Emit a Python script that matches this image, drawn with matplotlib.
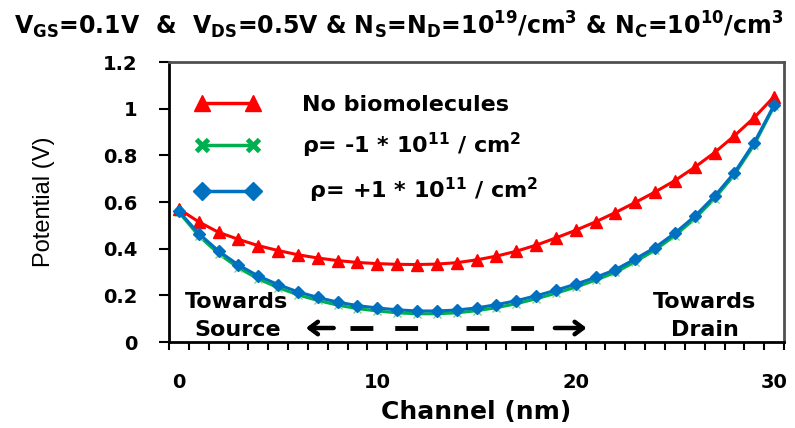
import matplotlib
matplotlib.use("Agg")
import matplotlib.pyplot as plt
from matplotlib.lines import Line2D
from matplotlib.legend_handler import HandlerLine2D
from matplotlib.ticker import MultipleLocator, FixedLocator

plt.rcParams['font.family'] = 'DejaVu Sans'
plt.rcParams['font.weight'] = 'bold'
plt.rcParams['mathtext.default'] = 'regular'

# channel position (nm), one point per nm
channel = list(range(31))

# potential along the channel (V)
no_bio = [0.570, 0.515, 0.470, 0.440, 0.413, 0.392, 0.374, 0.360, 0.349, 0.341,
          0.336, 0.333, 0.332, 0.334, 0.340, 0.352, 0.368, 0.389, 0.415, 0.446,
          0.479, 0.515, 0.555, 0.598, 0.643, 0.692, 0.749, 0.812, 0.884, 0.962,
          1.052]
rho_neg = [0.556, 0.455, 0.378, 0.318, 0.270, 0.233, 0.202, 0.178, 0.158, 0.143,
           0.133, 0.125, 0.121, 0.121, 0.125, 0.134, 0.147, 0.164, 0.185, 0.209,
           0.235, 0.265, 0.298, 0.344, 0.394, 0.456, 0.528, 0.615, 0.717, 0.846,
           1.010]
rho_pos = [0.560, 0.465, 0.390, 0.330, 0.283, 0.246, 0.215, 0.191, 0.171, 0.156,
           0.146, 0.138, 0.133, 0.133, 0.137, 0.146, 0.160, 0.177, 0.198, 0.222,
           0.248, 0.277, 0.310, 0.356, 0.405, 0.467, 0.539, 0.625, 0.726, 0.855,
           1.016]

labels = ['No biomolecules',
          r'ρ= -1 * 10$^{11}$ / cm$^{2}$',
          r' ρ= +1 * 10$^{11}$ / cm$^{2}$']

RED, GREEN, BLUE = '#FF0000', '#00B050', '#0070C0'

fig = plt.figure(figsize=(7.95, 4.28), dpi=100)
ax = fig.add_axes([0.2126, 0.2009, 0.7736, 0.6542])

ax.plot(channel, no_bio, color=RED, lw=2.2, marker='^', ms=8, zorder=3)
ax.plot(channel, rho_neg, color=GREEN, lw=2.2, marker='x', ms=6,
        mec='#7FD87F', mew=1.0, zorder=2)
ax.plot(channel, rho_pos, color=BLUE, lw=2.2, marker='D', ms=6, zorder=4)

ax.set_xlim(-0.5, 30.5)
ax.set_ylim(0, 1.2)

# labels every 10 nm, tick marks between the points
ax.xaxis.set_major_locator(FixedLocator([0, 10, 20, 30]))
ax.xaxis.set_minor_locator(FixedLocator([i + 0.5 for i in range(-1, 31)]))
ax.tick_params(axis='x', which='major', length=0, pad=22, labelsize=14)
ax.tick_params(axis='x', which='minor', length=6, width=1.5, direction='out')
ax.yaxis.set_major_locator(MultipleLocator(0.2))
ax.yaxis.set_major_formatter(plt.FuncFormatter(lambda v, p: f'{v:g}'))
ax.tick_params(axis='y', length=7, width=1.5, pad=16, labelsize=14)

for side in ['top', 'right']:
    ax.spines[side].set_color('#505050')
    ax.spines[side].set_linewidth(2)
for side in ['left', 'bottom']:
    ax.spines[side].set_color('black')
    ax.spines[side].set_linewidth(2)

ax.set_xlabel('Channel (nm)', fontsize=18, fontweight='bold', labelpad=6)
ax.set_ylabel('Potential (V)', fontsize=17, fontweight='normal',
              family='Liberation Sans', labelpad=34)

fig.text(0.502, 0.942, r'V$_{GS}$=0.1V  &  V$_{DS}$=0.5V & N$_{S}$=N$_{D}$=10$^{19}$/cm$^{3}$'
         r' & N$_{C}$=10$^{10}$/cm$^{3}$',
         ha='center', va='center', fontsize=17, fontweight='bold')

# legend keys: larger markers than on the curves
handles = [
    Line2D([], [], color=RED, lw=2.5, marker='^', ms=12),
    Line2D([], [], color=GREEN, lw=2.5, marker='x', ms=9, mew=3.5),
    Line2D([], [], color=BLUE, lw=2.5, marker='D', ms=9),
]
ax.legend(handles, labels, loc='upper left', frameon=False, fontsize=16,
          numpoints=2, handlelength=4.6, handletextpad=1.05,
          labelspacing=0.72, borderaxespad=0.0,
          bbox_to_anchor=(-0.003, 0.915),
          handler_map={Line2D: HandlerLine2D(marker_pad=1.15)})

# direction annotations
ax.text(2.9, 0.17, 'Towards', ha='center', va='center', fontsize=16)
ax.text(2.95, 0.05, 'Source', ha='center', va='center', fontsize=16)
ax.text(26.5, 0.17, 'Towards', ha='center', va='center', fontsize=16)
ax.text(26.5, 0.05, 'Drain', ha='center', va='center', fontsize=16)

ya = 0.06
head = dict(arrowstyle='->,head_length=0.6,head_width=0.45', lw=3.2,
            color='black', shrinkA=0, shrinkB=0)
ax.annotate('', xy=(6.4, ya), xytext=(7.8, ya), arrowprops=head)
ax.annotate('', xy=(20.55, ya), xytext=(18.95, ya), arrowprops=head)
for x0, x1 in [(8.64, 12.16), (14.47, 17.94)]:
    ax.plot([x0, x1], [ya, ya], color='black', lw=3.5,
            linestyle=(0, (4.7, 4.5)), dash_capstyle='butt')

fig.savefig('out.png', dpi=100)
